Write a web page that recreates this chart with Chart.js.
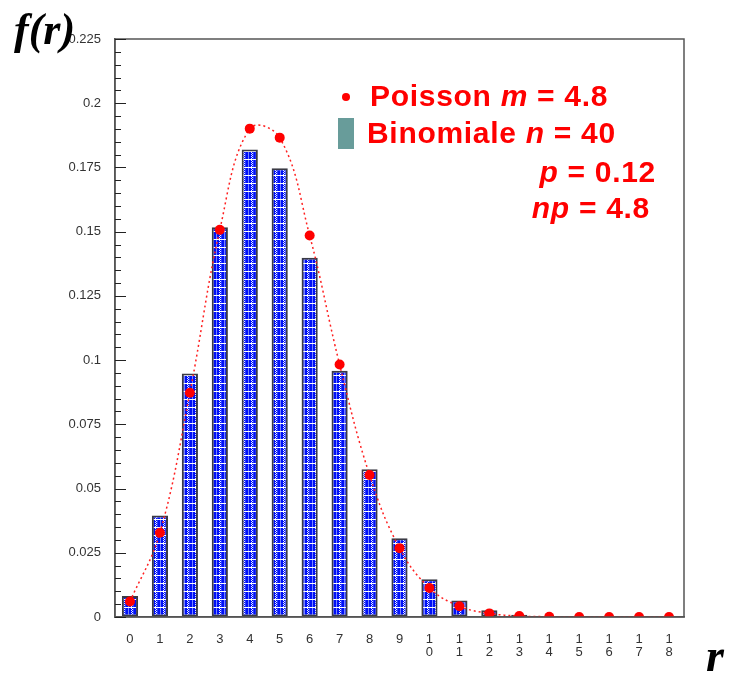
<!DOCTYPE html>
<html>
<head>
<meta charset="utf-8">
<script src="https://cdn.jsdelivr.net/npm/chart.js@4.4.1/dist/chart.umd.min.js"></script>
<style>
  html, body { margin: 0; padding: 0; background: #fff; overflow: hidden; }
  #wrap { position: relative; width: 740px; height: 673px; }
  #chart { position: absolute; left: 0; top: 0; }
  .lbl { position: absolute; white-space: nowrap; line-height: 1; }
  .leg { font-family: "Liberation Sans", Arial, sans-serif; font-weight: bold; font-size: 30px;
         color: #ff0000; letter-spacing: 0.7px; }
  .ax { font-family: "Liberation Serif", "Times New Roman", serif; font-weight: bold; font-style: italic;
        color: #000; }
</style>
</head>
<body>
<div id="wrap">
  <canvas id="chart" width="740" height="673"></canvas>
  <div class="lbl ax" style="left:14px; top:8px; font-size:44px;">f(r)</div>
  <div class="lbl ax" style="left:706px; top:633px; font-size:46px;">r</div>
  <div style="position:absolute; left:342px; top:93px; width:8px; height:8px; border-radius:50%; background:#ff0000;"></div>
  <div class="lbl leg" style="left:370px; top:81px;">Poisson <i>m</i> = 4.8</div>
  <div style="position:absolute; left:338px; top:118px; width:16px; height:31px; background:#689c9a;"></div>
  <div class="lbl leg" style="left:367px; top:118px;">Binomiale <i>n</i> = 40</div>
  <div class="lbl leg" style="right:84px; top:157px;"><i>p</i> = 0.12</div>
  <div class="lbl leg" style="right:90px; top:193px;"><i>np</i> = 4.8</div>
</div>
<script>
// r = 0..18, two-digit numbers are written on two lines
const categories = ["0", "1", "2", "3", "4", "5", "6", "7", "8", "9",
  ["1", "0"], ["1", "1"], ["1", "2"], ["1", "3"], ["1", "4"],
  ["1", "5"], ["1", "6"], ["1", "7"], ["1", "8"]];

// bar heights
const binomialeValues = [0.0082, 0.0395, 0.0948, 0.1517, 0.1820, 0.1747, 0.1398, 0.0959, 0.0575,
  0.0307, 0.0147, 0.0064, 0.0026, 0.0009, 0.0003, 0.0001, 0, 0, 0];

// red dots
const poissonValues = [0.0060, 0.0328, 0.0873, 0.1507, 0.1901, 0.1866, 0.1485, 0.0983, 0.0553,
  0.0268, 0.0113, 0.0042, 0.0014, 0.0004, 0.0001, 0, 0, 0, 0];

const yMax = 0.225;
const yStep = 0.025;
const yMinorStep = 0.005;

// blue plaid fill of the bars
function makePattern() {
  const c = document.createElement("canvas");
  c.width = 8;
  c.height = 8;
  const g = c.getContext("2d");
  g.fillStyle = "#0010f6";
  g.fillRect(0, 0, 8, 8);
  g.fillStyle = "#7684ff";
  g.fillRect(0, 0, 1, 8);
  g.fillStyle = "#2c3cff";
  g.fillRect(5, 0, 1, 8);
  // checkered light column
  g.fillStyle = "#e8ecff";
  for (let j = 0; j < 8; j += 2) {
    g.fillRect(3, j, 1, 1);
    g.fillRect(4, j + 1, 1, 1);
  }
  g.fillStyle = "#ffffff";
  g.fillRect(0, 7, 8, 1);
  return g.createPattern(c, "repeat");
}

// frame + inside ticks on the y axis
const framePlugin = {
  id: "frame",
  afterDraw(chart) {
    const { ctx, chartArea } = chart;
    const y = chart.scales.y;
    ctx.save();
    ctx.strokeStyle = "#555";
    ctx.lineWidth = 1.5;
    ctx.strokeRect(chartArea.left, chartArea.top, chartArea.right - chartArea.left, chartArea.bottom - chartArea.top);
    ctx.strokeStyle = "#222";
    ctx.lineWidth = 1;
    const n = Math.round(yMax / yMinorStep);
    for (let i = 0; i <= n; i++) {
      const py = Math.round(y.getPixelForValue(i * yMinorStep)) + 0.5;
      const len = i % 5 === 0 ? 11 : 6;
      ctx.beginPath();
      ctx.moveTo(chartArea.left, py);
      ctx.lineTo(chartArea.left + len, py);
      ctx.stroke();
    }
    ctx.restore();
  }
};

new Chart(document.getElementById("chart"), {
  type: "bar",
  data: {
    labels: categories,
    datasets: [
      {
        type: "line",
        label: "Poisson m = 4.8",
        data: poissonValues,
        borderColor: "#ff2020",
        borderWidth: 1.5,
        borderDash: [2, 3],
        tension: 0.4,
        pointRadius: 5,
        pointBackgroundColor: "#ff0000",
        pointBorderWidth: 0,
        clip: 0
      },
      {
        type: "bar",
        label: "Binomiale n = 40",
        data: binomialeValues,
        backgroundColor: makePattern(),
        borderColor: "#3a3a44",
        borderWidth: 2,
        borderSkipped: false,
        barPercentage: 0.54,
        categoryPercentage: 1
      }
    ]
  },
  options: {
    responsive: false,
    animation: false,
    layout: { padding: { top: 39, right: 56, left: 0, bottom: 0 } },
    plugins: { legend: { display: false }, tooltip: { enabled: false } },
    scales: {
      x: {
        grid: { display: false },
        border: { color: "#555", width: 1.5 },
        ticks: {
          color: "#333",
          padding: 8,
          maxRotation: 0,
          autoSkip: false,
          font: { family: "Liberation Sans, Arial, sans-serif", size: 13, lineHeight: 1.0 }
        },
        afterFit(scale) { scale.height = 56; }
      },
      y: {
        min: 0,
        max: yMax,
        grid: { drawOnChartArea: false, drawTicks: false },
        border: { color: "#555", width: 1.5 },
        ticks: {
          stepSize: yStep,
          color: "#333",
          padding: 14,
          font: { family: "Liberation Sans, Arial, sans-serif", size: 13 },
          callback: (v) => String(+v.toFixed(3))
        },
        afterFit(scale) { scale.width = 115; }
      }
    }
  },
  plugins: [framePlugin]
});
</script>
</body>
</html>
